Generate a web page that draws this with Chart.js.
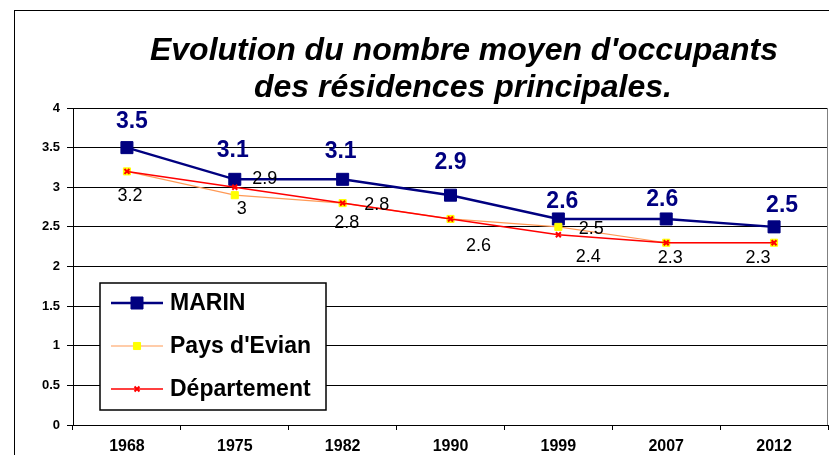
<!DOCTYPE html>
<html>
<head>
<meta charset="utf-8">
<script src="https://cdn.jsdelivr.net/npm/chart.js@4.4.1/dist/chart.umd.min.js"></script>
<style>
  html, body { margin: 0; padding: 0; background: #fff; }
  canvas { display: block; }
</style>
</head>
<body>
<canvas id="occupantsChart" width="829" height="455"></canvas>
<script>
// Data
const years = ['1968', '1975', '1982', '1990', '1999', '2007', '2012'];
const marin = [3.5, 3.1, 3.1, 2.9, 2.6, 2.6, 2.5];
const paysEvian = [3.2, 2.9, 2.8, 2.6, 2.5, 2.3, 2.3];
const departement = [3.2, 3.0, 2.8, 2.6, 2.4, 2.3, 2.3];
const seriesNames = ['MARIN', "Pays d'Evian", 'Département'];
const titleLines = ["Evolution du nombre moyen d'occupants", 'des résidences principales.'];
const yMin = 0;
const yMax = 4;
const yStep = 0.5;

// Label placement relative to each point (dx, dy), null = no label
const labelOffsets = [
    [[5, -26], [-2, -29], [-2, -28], [0, -33], [4, -17], [-4, -19], [8, -21]],
    [null, [30, -16], [34, 2], null, [33, 2], null, null],
    [[3, 25], [7, 22], [4, 20], [28, 27], [30, 22], [4, 15], [-16, 15]]
];
const labelFonts = ['bold 23px "Liberation Sans", Arial', '18px "Liberation Sans", Arial', '18px "Liberation Sans", Arial'];
const labelColors = ['#000080', '#000000', '#000000'];

const FONT = '"Liberation Sans", Arial, sans-serif';

const overlayPlugin = {
    id: 'overlay',
    beforeDraw(chart) {
        const ctx = chart.ctx;
        ctx.save();
        ctx.fillStyle = '#ffffff';
        ctx.fillRect(0, 0, chart.width, chart.height);
        // outer frame of the chart
        ctx.strokeStyle = '#000000';
        ctx.lineWidth = 1;
        ctx.strokeRect(14.5, 10.5, 1000, 1000);
        // title
        ctx.fillStyle = '#000000';
        ctx.font = 'italic bold 32px ' + FONT;
        ctx.textAlign = 'center';
        ctx.textBaseline = 'alphabetic';
        ctx.fillText(titleLines[0], 464, 60);
        ctx.fillText(titleLines[1], 463, 97);
        ctx.restore();
    },
    afterDatasetsDraw(chart) {
        const ctx = chart.ctx;
        const area = chart.chartArea;
        ctx.save();
        // right border of plot area
        ctx.strokeStyle = '#808080';
        ctx.lineWidth = 1;
        ctx.beginPath();
        ctx.moveTo(area.right - 0.5, area.top);
        ctx.lineTo(area.right - 0.5, area.bottom);
        ctx.stroke();

        // data labels
        ctx.textAlign = 'center';
        ctx.textBaseline = 'middle';
        chart.data.datasets.forEach((ds, i) => {
            const meta = chart.getDatasetMeta(i);
            ctx.font = labelFonts[i];
            ctx.fillStyle = labelColors[i];
            meta.data.forEach((pt, j) => {
                const off = labelOffsets[i][j];
                if (!off) return;
                ctx.fillText(String(ds.data[j]), pt.x + off[0], pt.y + off[1]);
            });
        });
        ctx.restore();
    },
    afterDraw(chart) {
        // legend box inside the plot
        const ctx = chart.ctx;
        const box = { x: 100, y: 283, w: 226, h: 127 };
        ctx.save();
        ctx.fillStyle = '#ffffff';
        ctx.fillRect(box.x, box.y, box.w, box.h);
        ctx.strokeStyle = '#000000';
        ctx.lineWidth = 1.5;
        ctx.strokeRect(box.x, box.y, box.w, box.h);

        ctx.font = 'bold 23px ' + FONT;
        ctx.textBaseline = 'middle';
        ctx.textAlign = 'left';
        chart.data.datasets.forEach((ds, i) => {
            const cy = box.y + 20 + i * 43;
            ctx.strokeStyle = ds.borderColor;
            ctx.lineWidth = ds.borderWidth;
            ctx.beginPath();
            ctx.moveTo(111, cy);
            ctx.lineTo(163, cy);
            ctx.stroke();
            ctx.fillStyle = ds.pointBackgroundColor;
            ctx.strokeStyle = ds.pointBorderColor;
            ctx.lineWidth = ds.pointBorderWidth;
            Chart.helpers.drawPoint(ctx, {
                pointStyle: ds.pointStyle,
                radius: ds.pointRadius,
                rotation: 0,
                borderWidth: ds.pointBorderWidth
            }, 137, cy);
            ctx.fillStyle = '#000000';
            ctx.fillText(ds.label, 170, cy + 1);
        });
        ctx.restore();
    }
};

new Chart(document.getElementById('occupantsChart'), {
    type: 'line',
    data: {
        labels: years,
        datasets: [
            {
                label: seriesNames[0],
                data: marin,
                borderColor: '#000080',
                borderWidth: 2.5,
                pointStyle: 'rect',
                pointRadius: 8.5,
                pointBackgroundColor: '#000080',
                pointBorderColor: '#000080',
                pointBorderWidth: 1,
                tension: 0,
                order: 2
            },
            {
                label: seriesNames[1],
                data: paysEvian,
                borderColor: '#FF9955',
                borderWidth: 1.2,
                pointStyle: 'rect',
                pointRadius: 5,
                pointBackgroundColor: '#FFFF00',
                pointBorderColor: '#FFFF00',
                pointBorderWidth: 1,
                tension: 0,
                order: 1
            },
            {
                label: seriesNames[2],
                data: departement,
                borderColor: '#FF0000',
                borderWidth: 1.5,
                pointStyle: 'crossRot',
                pointRadius: 3.5,
                pointBackgroundColor: '#FF0000',
                pointBorderColor: '#FF0000',
                pointBorderWidth: 2,
                tension: 0,
                order: 0
            }
        ]
    },
    options: {
        responsive: false,
        devicePixelRatio: 1,
        animation: false,
        layout: {
            autoPadding: false,
            padding: { top: 108, right: 1, bottom: 0, left: 0 }
        },
        plugins: {
            legend: { display: false },
            title: { display: false },
            tooltip: { enabled: false }
        },
        scales: {
            x: {
                offset: true,
                grid: {
                    offset: true,
                    drawOnChartArea: false,
                    drawTicks: true,
                    tickLength: 5,
                    color: '#000000'
                },
                border: { display: true, color: '#000000', width: 1 },
                ticks: {
                    color: '#000000',
                    font: { family: FONT, size: 16, weight: 'bold' },
                    padding: 7,
                    maxRotation: 0,
                    autoSkip: false
                },
                afterFit(scale) {
                    scale.height = 30;
                    scale.paddingLeft = 0;
                    scale.paddingRight = 0;
                }
            },
            y: {
                min: yMin,
                max: yMax,
                grid: {
                    color: '#000000',
                    lineWidth: 1,
                    drawTicks: true,
                    tickLength: 6
                },
                border: { display: true, color: '#000000', width: 1 },
                ticks: {
                    stepSize: yStep,
                    color: '#000000',
                    padding: 7,
                    font: { family: FONT, size: 13, weight: 'bold' },
                    callback: v => String(v)
                },
                afterFit(scale) {
                    scale.width = 73;
                    scale.paddingTop = 0;
                    scale.paddingBottom = 0;
                }
            }
        }
    },
    plugins: [overlayPlugin]
});
</script>
</body>
</html>
